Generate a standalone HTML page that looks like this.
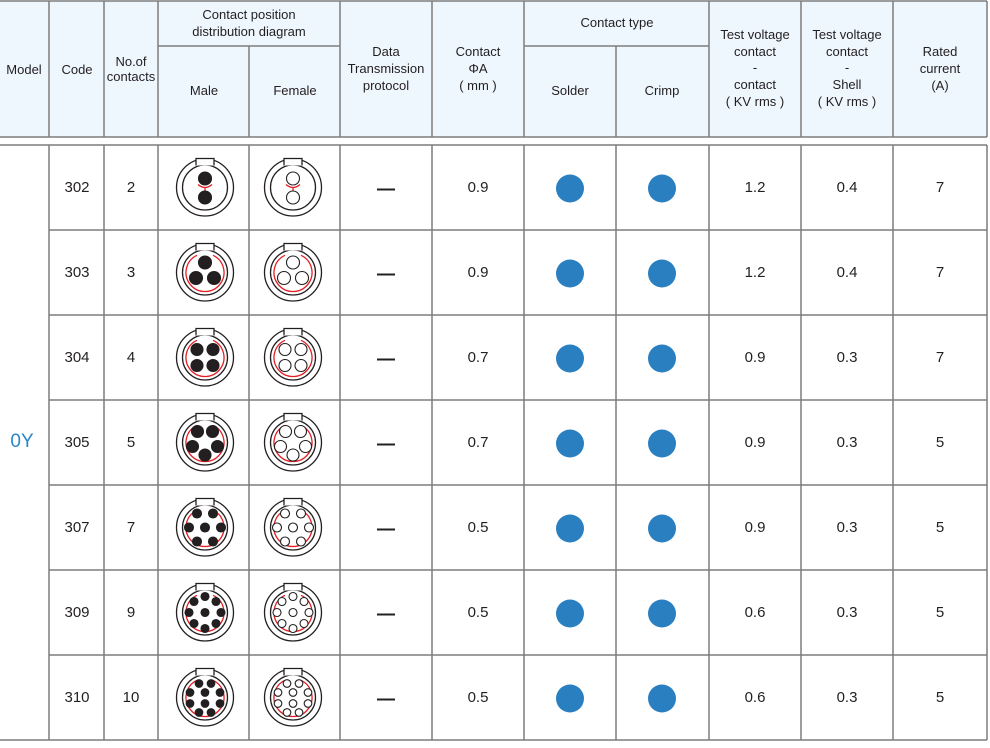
<!DOCTYPE html>
<html><head><meta charset="utf-8"><style>
html,body{margin:0;padding:0;background:#fff;}
svg{display:block;}
text{font-family:"Liberation Sans",Arial,sans-serif;fill:#231f20;}
</style></head><body>
<svg id="s" width="990" height="748" viewBox="0 0 990 748" xmlns="http://www.w3.org/2000/svg">
<rect x="0" y="1" width="987" height="136" fill="#eef6fe"/>
<g stroke="#7d7d7d" stroke-width="1.5" fill="none">
<line x1="0" y1="1" x2="987" y2="1"/>
<line x1="0" y1="137" x2="987" y2="137"/>
<line x1="0" y1="145" x2="987" y2="145"/>
<line x1="0" y1="740" x2="987" y2="740"/>
<line x1="158" y1="46" x2="340" y2="46"/>
<line x1="524" y1="46" x2="709" y2="46"/>
<line x1="49" y1="1" x2="49" y2="137"/><line x1="49" y1="145" x2="49" y2="740"/>
<line x1="104" y1="1" x2="104" y2="137"/><line x1="104" y1="145" x2="104" y2="740"/>
<line x1="158" y1="1" x2="158" y2="137"/><line x1="158" y1="145" x2="158" y2="740"/>
<line x1="249" y1="46" x2="249" y2="137"/><line x1="249" y1="145" x2="249" y2="740"/>
<line x1="340" y1="1" x2="340" y2="137"/><line x1="340" y1="145" x2="340" y2="740"/>
<line x1="432" y1="1" x2="432" y2="137"/><line x1="432" y1="145" x2="432" y2="740"/>
<line x1="524" y1="1" x2="524" y2="137"/><line x1="524" y1="145" x2="524" y2="740"/>
<line x1="616" y1="46" x2="616" y2="137"/><line x1="616" y1="145" x2="616" y2="740"/>
<line x1="709" y1="1" x2="709" y2="137"/><line x1="709" y1="145" x2="709" y2="740"/>
<line x1="801" y1="1" x2="801" y2="137"/><line x1="801" y1="145" x2="801" y2="740"/>
<line x1="893" y1="1" x2="893" y2="137"/><line x1="893" y1="145" x2="893" y2="740"/>
<line x1="987" y1="1" x2="987" y2="137"/><line x1="987" y1="145" x2="987" y2="740"/>
<line x1="49" y1="230" x2="987" y2="230"/>
<line x1="49" y1="315" x2="987" y2="315"/>
<line x1="49" y1="400" x2="987" y2="400"/>
<line x1="49" y1="485" x2="987" y2="485"/>
<line x1="49" y1="570" x2="987" y2="570"/>
<line x1="49" y1="655" x2="987" y2="655"/>
</g>
<g font-size="13" text-anchor="middle">
<text x="24" y="74">Model</text>
<text x="77" y="74">Code</text>
<text x="131" y="66">No.of</text><text x="131" y="81">contacts</text>
<text x="249" y="19">Contact position</text><text x="249" y="36">distribution diagram</text>
<text x="204" y="95">Male</text><text x="295" y="95">Female</text>
<text x="386" y="56">Data</text><text x="386" y="73">Transmission</text><text x="386" y="90">protocol</text>
<text x="478" y="56">Contact</text><text x="478" y="73">ΦA</text><text x="478" y="90">( mm )</text>
<text x="617" y="27">Contact type</text>
<text x="570" y="95">Solder</text><text x="662" y="95">Crimp</text>
<text x="755" y="39">Test voltage</text><text x="755" y="56">contact</text><text x="755" y="72">-</text><text x="755" y="89">contact</text><text x="755" y="106">( KV rms )</text>
<text x="847" y="39">Test voltage</text><text x="847" y="56">contact</text><text x="847" y="72">-</text><text x="847" y="89">Shell</text><text x="847" y="106">( KV rms )</text>
<text x="940" y="56">Rated</text><text x="940" y="73">current</text><text x="940" y="90">(A)</text>
</g>
<text x="22" y="447" font-size="19" text-anchor="middle" style="fill:#2a86c8">0Y</text>
<g font-size="15" text-anchor="middle">
<text x="77" y="192">302</text><text x="131" y="192">2</text><text x="478" y="192">0.9</text><text x="755" y="192">1.2</text><text x="847" y="192">0.4</text><text x="940" y="192">7</text>
<text x="77" y="277">303</text><text x="131" y="277">3</text><text x="478" y="277">0.9</text><text x="755" y="277">1.2</text><text x="847" y="277">0.4</text><text x="940" y="277">7</text>
<text x="77" y="362">304</text><text x="131" y="362">4</text><text x="478" y="362">0.7</text><text x="755" y="362">0.9</text><text x="847" y="362">0.3</text><text x="940" y="362">7</text>
<text x="77" y="447">305</text><text x="131" y="447">5</text><text x="478" y="447">0.7</text><text x="755" y="447">0.9</text><text x="847" y="447">0.3</text><text x="940" y="447">5</text>
<text x="77" y="532">307</text><text x="131" y="532">7</text><text x="478" y="532">0.5</text><text x="755" y="532">0.9</text><text x="847" y="532">0.3</text><text x="940" y="532">5</text>
<text x="77" y="617">309</text><text x="131" y="617">9</text><text x="478" y="617">0.5</text><text x="755" y="617">0.6</text><text x="847" y="617">0.3</text><text x="940" y="617">5</text>
<text x="77" y="702">310</text><text x="131" y="702">10</text><text x="478" y="702">0.5</text><text x="755" y="702">0.6</text><text x="847" y="702">0.3</text><text x="940" y="702">5</text>
</g>
<g id="dyn"></g>
</svg>
<script>
var g=document.getElementById('dyn'),h='';
var P={
2:[[0,-9],[0,10]],3:[[0,-10],[-9,5.5],[9,5.5]],4:[[-8,-8],[8,-8],[-8,8],[8,8]],
5:[[-7.5,-11],[7.5,-11],[-12.5,4],[12.5,4],[0,12.5]],
7:[[-8,-14],[8,-14],[-16,0],[0,0],[16,0],[-8,14],[8,14]],
9:[[0,-16],[11,-11],[16,0],[11,11],[0,16],[-11,11],[-16,0],[-11,-11],[0,0]],
10:[[-6,-14],[6,-14],[-15,-5],[0,-5],[15,-5],[-15,6],[0,6],[15,6],[-6,15],[6,15]]};
var R={2:6.5,3:6.5,4:6,5:6,7:4.5,9:4,10:3.8};
var ns=[2,3,4,5,7,9,10];
ns.forEach(function(n,i){
 var cy=187.5+85*i;
 [[205,1],[293,0]].forEach(function(c){
  var cx=c[0];
  h+='<circle cx="'+cx+'" cy="'+cy+'" r="28.5" fill="#fff" stroke="#231f20" stroke-width="1.3"/>';
  h+='<circle cx="'+cx+'" cy="'+cy+'" r="22.5" fill="none" stroke="#231f20" stroke-width="1.3"/>';
  h+='<path d="M'+(cx-9)+' '+(cy-22)+' V'+(cy-29)+' H'+(cx+9)+' V'+(cy-22)+'" fill="#fff" stroke="#231f20" stroke-width="1.3"/>';
  if(n==2){h+='<path d="M'+(cx-7)+' '+(cy-3)+' Q'+cx+' '+(cy+3)+' '+(cx+7)+' '+(cy-3)+' M'+cx+' '+cy+' V'+(cy+3)+'" fill="none" stroke="#e31e24" stroke-width="1.3"/>';}
  else{var r=19,a1=-115*Math.PI/180,a2=-65*Math.PI/180;
   h+='<path d="M'+(cx+r*Math.cos(a1))+' '+(cy+r*Math.sin(a1))+' A'+r+' '+r+' 0 1 0 '+(cx+r*Math.cos(a2))+' '+(cy+r*Math.sin(a2))+'" fill="none" stroke="#e31e24" stroke-width="1.3"/>';}
  P[n].forEach(function(p){
   h+='<circle cx="'+(cx+p[0])+'" cy="'+(cy+p[1])+'" r="'+R[n]+'" fill="'+(c[1]?'#231f20':'#fff')+'" stroke="#231f20" stroke-width="1.1"/>';});
 });
 h+='<line x1="377" y1="'+(cy+2)+'" x2="395" y2="'+(cy+2)+'" stroke="#231f20" stroke-width="2"/>';
 h+='<circle cx="570" cy="'+(cy+1)+'" r="14" fill="#2a7fc1"/><circle cx="662" cy="'+(cy+1)+'" r="14" fill="#2a7fc1"/>';
});
g.innerHTML=h;
</script>
</body></html>
